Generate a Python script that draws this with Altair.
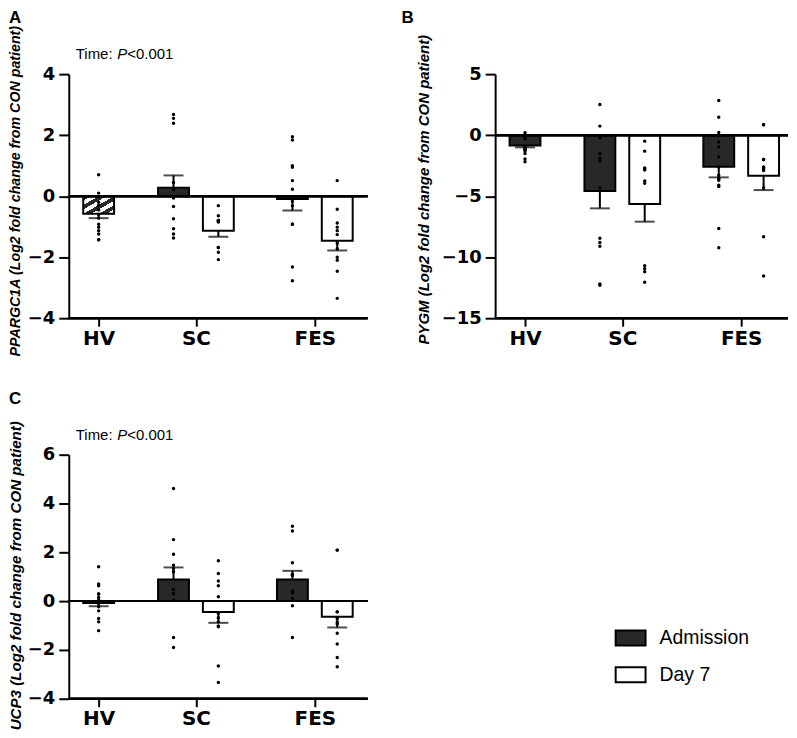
import altair as alt
import pandas as pd

GROUPS = ["HV", "SC", "FES"]
SLOTS = ["Admission", "HV", "Day 7"]
TIMES = ["Admission", "Day 7"]
BAR_GROUP = ["HV", "SC", "SC", "FES", "FES"]
BAR_SLOT = ["HV", "Admission", "Day 7", "Admission", "Day 7"]

# Panel A: PPARGC1A
A_MEAN = [-0.58, 0.28, -1.13, -0.09, -1.46]
A_SEM = [0.14, 0.40, 0.20, 0.38, 0.32]
A_HV = [0.70, 0.10, -0.20, -0.30, -0.45, -0.60, -0.72, -0.92, -1.02, -1.13, -1.24, -1.43, -1.43]
A_SC_ADM = [2.68, 2.55, 2.39, 0.45, 0.21, -0.06, -0.34, -0.74, -1.07, -1.24, -1.37]
A_SC_D7 = [-0.31, -0.64, -0.80, -0.80, -0.82, -0.85, -1.68, -1.68, -1.84, -2.08]
A_FES_ADM = [1.95, 1.84, 1.00, 0.95, 0.51, 0.23, -0.17, -0.31, -0.92, -0.92, -2.32, -2.77]
A_FES_D7 = [0.51, -0.43, -0.88, -1.02, -1.13, -1.26, -1.54, -1.72, -2.00, -2.10, -2.46, -3.35]

# Panel B: PYGM
B_MEAN = [-0.85, -4.58, -5.65, -2.59, -3.33]
B_SEM = [0.15, 1.42, 1.44, 0.87, 1.17]
B_HV = [0.19, -0.27, -0.27, -0.30, -0.30, -0.90, -1.00, -1.10, -1.20, -1.20, -1.30, -1.50, -1.96, -2.18]
B_SC_ADM = [2.51, 0.74, -0.22, -1.50, -1.90, -2.10, -4.30, -8.45, -8.80, -9.10, -12.20, -12.30]
B_SC_D7 = [-0.49, -1.31, -2.70, -2.75, -2.85, -3.76, -3.95, -10.70, -10.95, -11.20, -12.05]
B_FES_ADM = [2.84, 1.47, 0.21, -0.55, -0.96, -1.78, -2.60, -3.28, -3.50, -3.60, -3.70, -4.10, -4.20, -7.65, -9.23]
B_FES_D7 = [0.85, 0.85, -1.99, -1.99, -2.60, -2.65, -2.70, -2.75, -2.90, -4.30, -8.32, -11.54]

# Panel C: UCP3
C_MEAN = [-0.08, 0.89, -0.45, 0.89, -0.64]
C_SEM = [0.13, 0.49, 0.44, 0.35, 0.44]
C_HV = [1.41, 0.70, 0.63, 0.29, 0.29, 0.15, 0.05, -0.10, -0.23, -0.40, -0.71, -0.85, -1.21]
C_SC_ADM = [4.61, 2.52, 1.92, 1.47, 1.34, 1.20, 0.48, 0.31, 0.31, 0.04, -1.49, -1.90]
C_SC_D7 = [1.65, 1.13, 0.82, 0.63, 0.18, -0.50, -0.68, -0.85, -1.02, -1.05, -2.66, -3.33]
C_FES_ADM = [3.07, 2.87, 1.57, 1.10, 1.10, 1.05, 0.41, 0.34, 0.11, -0.19, -1.49]
C_FES_D7 = [2.09, 2.09, -0.44, -0.44, -0.71, -0.87, -0.94, -1.32, -1.76, -2.31, -2.69]

DARK = "#282828"
H = 245
TICK_FONT = "DejaVu Sans"
TEXT_FONT = "Liberation Sans"

# x positions: groups sit on a fine point grid (HV at step 0, SC at 9, FES at 20);
# the unlabeled in-between steps only reproduce the uneven group gaps of the original
X_DOMAIN = (["HV"] + [f"gap{i}" for i in range(8)] + ["SC"]
            + [f"gap{i}" for i in range(8, 18)] + ["FES"])

n_stripes = 4
stops = []
for k in range(n_stripes):
    a = k / n_stripes
    b = (k + 0.5) / n_stripes
    c = (k + 1) / n_stripes
    stops += [alt.GradientStop(offset=a, color=DARK), alt.GradientStop(offset=b, color=DARK),
              alt.GradientStop(offset=b, color="white"), alt.GradientStop(offset=c, color="white")]
HATCH = alt.Gradient(gradient="linear", stops=stops, x1=0, y1=0, x2=1, y2=1)


def panel(letter, gene, title_size, title_x, title_y, means, sems, pts, ydomain, yticks, hv_fill,
          show_time, show_legend, width):
    bars = pd.DataFrame({"group": BAR_GROUP, "slot": BAR_SLOT, "mean": means, "sem": sems})
    bars["end"] = [m + s if m >= 0 else m - s for m, s in zip(means, sems)]
    rows = []
    for (g, s), vals in zip(zip(BAR_GROUP, BAR_SLOT), pts):
        for v in vals:
            rows.append({"group": g, "slot": s, "value": v})
    pdf = pd.DataFrame(rows)

    x = alt.X("group:N", scale=alt.Scale(type="point", domain=X_DOMAIN, range=[30, 247], padding=0),
              axis=alt.Axis(title=None, values=GROUPS, domain=False, labelFont=TICK_FONT, labelFontWeight="bold",
                            labelFontSize=20, labelColor="black", tickSize=8, labelPadding=2, labelAngle=0))
    xo = alt.XOffset("slot:N", scale=alt.Scale(domain=SLOTS, range=[-33.75, 33.75], paddingInner=0, paddingOuter=0))
    yscale = alt.Scale(domain=ydomain, nice=False, zero=False)
    yaxis = alt.Axis(values=yticks, title=f"{gene} (Log2 fold change from CON patient)",
                     titleFont=TEXT_FONT, titleFontWeight="bold", titleFontStyle="italic",
                     titleFontSize=title_size, titleColor="black", titleX=title_x, titleY=title_y,
                     titleAngle=270, titleAlign="center", titleBaseline="middle",
                     labelFont=TICK_FONT, labelFontWeight="bold", labelFontSize=18, labelColor="black",
                     tickSize=10, labelPadding=4)

    base = alt.Chart(bars)
    hv_bar = base.transform_filter("datum.group == 'HV'").mark_bar(
        size=31, fill=hv_fill, stroke="black", strokeWidth=2).encode(
        x=x, xOffset=xo, y=alt.Y("mean:Q", scale=yscale, axis=yaxis), y2=alt.datum(0))
    fill = alt.Fill("slot:N", scale=alt.Scale(domain=TIMES, range=[DARK, "white"]),
                    legend=(alt.Legend(orient="none", legendX=548, legendY=168, title=None,
                                       symbolType="M-1,-0.5H1V0.5H-1Z", symbolSize=900,
                                       symbolStrokeColor="black", symbolStrokeWidth=2, symbolOpacity=1,
                                       labelFont=TEXT_FONT, labelFontSize=19.5, labelColor="black",
                                       labelOffset=13, rowPadding=9, padding=0) if show_legend else None))
    grp_bar = base.transform_filter("datum.group != 'HV'").mark_bar(
        size=31, stroke="black", strokeWidth=2).encode(
        x=x, xOffset=xo, y=alt.Y("mean:Q", scale=yscale, axis=yaxis), y2=alt.datum(0), fill=fill)
    zero = base.mark_rule(color="black", strokeWidth=2).encode(y=alt.datum(0))
    bottom = base.mark_rule(color="black", strokeWidth=2).encode(y=alt.datum(ydomain[0]))
    err = base.mark_rule(color="black", strokeWidth=2).encode(
        x=x, xOffset=xo, y=alt.Y("mean:Q"), y2="end:Q")
    cap = base.mark_tick(color="black", size=20, thickness=2, orient="horizontal").encode(
        x=x, xOffset=xo, y=alt.Y("end:Q"))
    dots = alt.Chart(pdf).mark_circle(size=12, color="black", opacity=1).encode(
        x=x, xOffset=xo, y=alt.Y("value:Q"))

    layers = [hv_bar, grp_bar, zero, bottom, err, cap, dots]
    lx = -60 if letter != "B" else -94
    lab = alt.Chart(pd.DataFrame({"t": [letter]})).mark_text(
        font=TEXT_FONT, fontWeight="bold", fontSize=17, align="left", baseline="top", color="black").encode(
        x=alt.value(lx), y=alt.value(-64), text="t:N")
    layers.append(lab)
    if show_time:
        parts = [("Time: ", "normal", 7), ("P", "italic", 48.7), ("<0.001", "normal", 58.7)]
        for t, style, px in parts:
            layers.append(alt.Chart(pd.DataFrame({"t": [t]})).mark_text(
                font=TEXT_FONT, fontSize=15, fontStyle=style, align="left", baseline="alphabetic",
                color="black").encode(x=alt.value(px), y=alt.value(-15), text="t:N"))
    return alt.layer(*layers).properties(width=width, height=H)


pA = panel("A", "PPARGC1A", 14.3, -53, 117, A_MEAN, A_SEM, [A_HV, A_SC_ADM, A_SC_D7, A_FES_ADM, A_FES_D7],
           [-4, 4], [-4, -2, 0, 2, 4], HATCH, True, False, 300)
pB = panel("B", "PYGM", 15, -72, 115.5, B_MEAN, B_SEM, [B_HV, B_SC_ADM, B_SC_D7, B_FES_ADM, B_FES_D7],
           [-15, 5], [-15, -10, -5, 0, 5], DARK, False, False, 294)
pC = panel("C", "UCP3", 15.2, -53, 121, C_MEAN, C_SEM, [C_HV, C_SC_ADM, C_SC_D7, C_FES_ADM, C_FES_D7],
           [-4, 6], [-4, -2, 0, 2, 4, 6], DARK, True, True, 300)

chart = alt.concat(pA, pB, pC, columns=2, spacing={"row": 137, "column": 128}, bounds="flush").resolve_scale(
    fill="independent").resolve_legend(fill="independent").properties(padding=0).configure_view(
    stroke=None).configure_axis(grid=False, domainColor="black", domainWidth=2, tickColor="black", tickWidth=2)

chart.save("out.html", embed_options={"renderer": "svg", "actions": False})
